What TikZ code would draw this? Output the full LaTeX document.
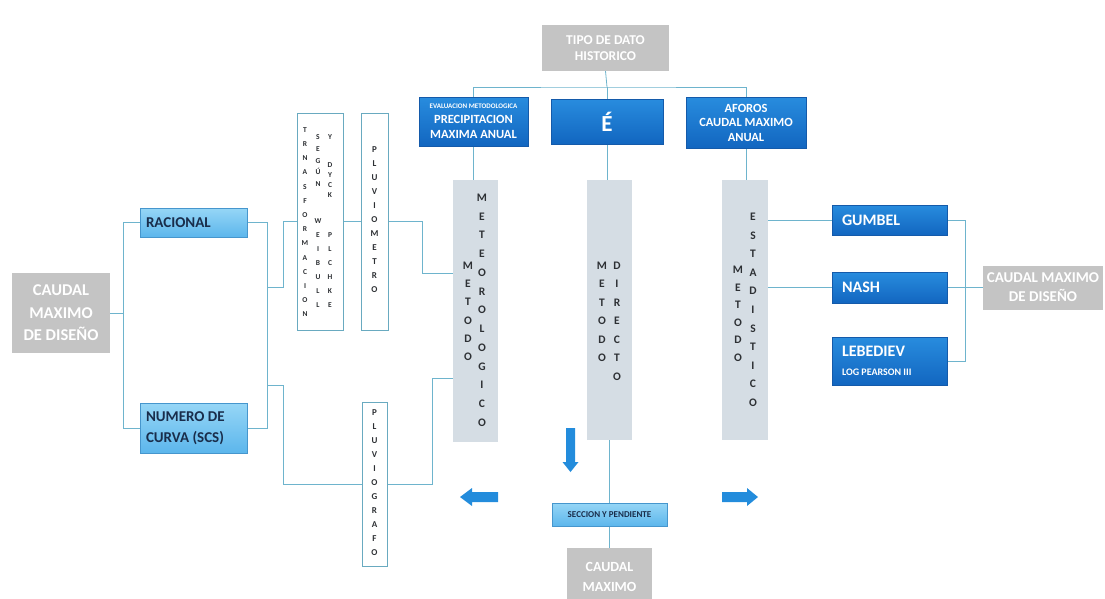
\documentclass[tikz,border=0pt]{standalone}
\usepackage{fontspec}
\setmainfont{Carlito}
\usetikzlibrary{backgrounds}

\definecolor{boxgrey}{RGB}{196,196,196}
\definecolor{colfill}{RGB}{213,221,228}
\definecolor{bluetop}{RGB}{40,140,222}
\definecolor{bluebot}{RGB}{18,102,192}
\definecolor{blueedge}{RGB}{20,90,170}
\definecolor{lighttop}{RGB}{150,214,246}
\definecolor{lightbot}{RGB}{92,182,236}
\definecolor{lightedge}{RGB}{70,150,205}
\definecolor{navytext}{RGB}{25,45,75}
\definecolor{linkc}{RGB}{110,180,205}
\definecolor{frameedge}{RGB}{105,170,192}
\definecolor{lettergrey}{RGB}{45,48,52}
\definecolor{arrowc}{RGB}{35,140,220}

% left-flushed line of fixed width inside a box
\newcommand\lft[1]{\makebox[95pt][l]{#1}}

\begin{document}
\begin{tikzpicture}[x=1pt,y=-1pt,
  every node/.style={inner sep=0pt, outer sep=0pt},
  greybox/.style={fill=boxgrey, text=white, align=center},
  darkbox/.style={top color=bluetop, bottom color=bluebot, draw=blueedge,
    line width=0.5pt, text=white, align=center},
  lightbox/.style={top color=lighttop, bottom color=lightbot, draw=lightedge,
    line width=0.6pt, text=navytext, align=center},
  leftbox/.style={minimum width=115pt, inner xsep=10pt,
    font=\bfseries\fontsize{16}{19}\selectfont},
  framebox/.style={draw=frameedge, fill=white, line width=1pt},
  column/.style={fill=colfill},
  stack/.style={anchor=north, align=center, text=lettergrey,
    font=\bfseries\fontsize{11.5}{#1}\selectfont},
  smallstack/.style={anchor=north, align=center, text=lettergrey,
    font=\bfseries\fontsize{7.5}{#1}\selectfont},
  midstack/.style={anchor=north, align=center, text=lettergrey,
    font=\bfseries\fontsize{9}{#1}\selectfont},
  link/.style={draw=linkc, line width=0.8pt}
]
\useasboundingbox (0,0) rectangle (1105,598);

% ---- top level: kind of historical data ----
\node[greybox, minimum width=127pt, minimum height=46pt,
  font=\bfseries\fontsize{13.5}{16}\selectfont] (tipo) at (605.5,48) {TIPO DE DATO\\HISTORICO};

\node[darkbox, minimum width=109pt, minimum height=49pt,
  font=\bfseries\fontsize{12.5}{15}\selectfont] (bL) at (473.5,121.5)
  {{\fontsize{7}{7}\selectfont EVALUACION METODOLOGICA}\\PRECIPITACION\\MAXIMA ANUAL};
\node[darkbox, minimum width=112pt, minimum height=45pt,
  font=\bfseries\fontsize{23}{24}\selectfont] (bM) at (607,121.5) {É};
\node[darkbox, minimum width=120pt, minimum height=51pt,
  font=\bfseries\fontsize{12.5}{14.5}\selectfont] (bR) at (746,122.5)
  {AFOROS\\CAUDAL MAXIMO\\ANUAL};

% ---- method columns ----
\node[column, minimum width=45pt, minimum height=262pt] (colL) at (475.5,311) {};
\node[column, minimum width=45pt, minimum height=260pt] (colM) at (609.5,310) {};
\node[column, minimum width=46pt, minimum height=260pt] (colR) at (745,310) {};

\node[stack=18.2]  (tL1) at (468,262) {M\\E\\T\\O\\D\\O};
\node[stack=18.75] (tL2) at (482,194) {M\\E\\T\\E\\O\\R\\O\\L\\O\\G\\I\\C\\O};
\node[stack=18.5]  (tM1) at (602,262) {M\\E\\T\\O\\D\\O};
\node[stack=18.5]  (tM2) at (617,262) {D\\I\\R\\E\\C\\T\\O};
\node[stack=17.6]  (tR1) at (738,266) {M\\E\\T\\O\\D\\O};
\node[stack=18.6]  (tR2) at (753,213) {E\\S\\T\\A\\D\\I\\S\\T\\I\\C\\O};

% ---- statistical distributions ----
\node[darkbox, leftbox, minimum height=30pt] (gumbel) at (889.5,220) {\lft{GUMBEL}};
\node[darkbox, leftbox, minimum height=31pt] (nash) at (889.5,287.5) {\lft{NASH}};
\node[darkbox, leftbox, minimum height=48pt] (lebe) at (889.5,361)
  {\lft{LEBEDIEV}\\\lft{\fontsize{10}{11}\selectfont LOG PEARSON III}};
\node[greybox, minimum width=120pt, minimum height=44pt,
  font=\bfseries\fontsize{15}{19}\selectfont] (capR) at (1043,287.5) {CAUDAL MAXIMO\\DE DISEÑO};

% ---- design flow methods ----
\node[greybox, minimum width=98pt, minimum height=80pt,
  font=\bfseries\fontsize{16.5}{22.5}\selectfont] (capL) at (61,313) {CAUDAL\\MAXIMO\\DE DISEÑO};
\node[lightbox, minimum width=107pt, minimum height=29pt, inner xsep=6pt,
  font=\bfseries\fontsize{15}{18}\selectfont] (racional) at (193.5,222.5) {\lft{RACIONAL}};
\node[lightbox, minimum width=107pt, minimum height=50pt, inner xsep=6pt,
  font=\bfseries\fontsize{15}{21.5}\selectfont] (numero) at (193.5,428)
  {\lft{NUMERO DE}\\\lft{CURVA (SCS)}};

% ---- rain gauges ----
\node[framebox, minimum width=46pt, minimum height=217pt] (transf) at (320,221.5) {};
\node[smallstack=14.2] (tc1)  at (305,127.5) {T\\R\\N\\A\\S\\F\\O\\R\\M\\A\\C\\I\\O\\N};
\node[smallstack=11.8] (tc2a) at (318,134.5) {S\\E\\G\\Ú\\N};
\node[smallstack=14]   (tc2b) at (318,218.5) {W\\E\\I\\B\\U\\L\\L};
\node[smallstack=10]   (tc3a) at (330,134.5) {Y};
\node[smallstack=10]   (tc3b) at (330,162.5) {D\\Y\\C\\K};
\node[smallstack=14]   (tc3c) at (330,232.5) {P\\L\\C\\H\\K\\E};

\node[framebox, minimum width=27pt, minimum height=217pt] (pmetro) at (374.5,221.5) {};
\node[midstack=14] (tpm) at (374.5,146.5) {P\\L\\U\\V\\I\\O\\M\\E\\T\\R\\O};
\node[framebox, minimum width=25pt, minimum height=164pt] (pgrafo) at (374.5,484) {};
\node[midstack=14] (tpg) at (374.5,409.5) {P\\L\\U\\V\\I\\O\\G\\R\\A\\F\\O};

% ---- direct method output ----
\node[lightbox, minimum width=115pt, minimum height=23pt,
  font=\bfseries\fontsize{9}{10}\selectfont] (seccion) at (609.5,514.5) {SECCION Y PENDIENTE};
\node[greybox, minimum width=85pt, minimum height=58pt,
  font=\bfseries\fontsize{14}{20}\selectfont] (capB) at (609.5,577) {CAUDAL\\MAXIMO};

% ---- block arrows ----
\fill[arrowc] (566,428) -- (575,428) -- (575,462) -- (578.5,462) -- (570.5,472)
  -- (562.5,462) -- (566,462) -- cycle;
\fill[arrowc] (460,497) -- (472,488) -- (472,492) -- (498,492) -- (498,502)
  -- (472,502) -- (472,506) -- cycle;
\fill[arrowc] (758,497) -- (747,488) -- (747,492) -- (722,492) -- (722,502)
  -- (747,502) -- (747,506) -- cycle;

% ---- connectors ----
\begin{scope}[on background layer]
  \coordinate (hub) at (607,87);
  \draw[link] (tipo.south) -- (hub);
  \draw[link] (bL.north) |- (hub) -| (bR.north);
  \draw[link] (bM.north) -- (hub);
  \draw[link] (bL.south) -- (bL.south |- colL.north);
  \draw[link] (bM.south) -- (bM.south |- colM.north);
  \draw[link] (bR.south) -- (bR.south |- colR.north);

  % left brackets
  \coordinate (lbx) at (123,0);
  \draw[link] (capL.east) -- (capL.east -| lbx);
  \draw[link] (racional.west) -- (racional.west -| lbx) -- (numero.west -| lbx) -- (numero.west);
  \coordinate (rbx) at (267,0);
  \draw[link] (racional.east) -- (racional.east -| rbx) -- (numero.east -| rbx) -- (numero.east);

  % upper branch through the rain gauge
  \coordinate (j1) at (267,287);
  \draw[link] (j1) -- ++(16,0) |- (transf.west);
  \draw[link] (transf.east) -- (pmetro.west);
  \draw[link] (pmetro.east) -- ++(34,0) |- ([yshift=38pt]colL.west);

  % lower branch through the recording gauge
  \coordinate (j2) at (267,385);
  \draw[link] (j2) -- ++(16,0) |- (pgrafo.west);
  \draw[link] (pgrafo.east) -- ++(45,0) |- ([yshift=-67pt]colL.west);

  % statistical branch
  \draw[link] (gumbel.west -| colR.east) -- (gumbel.west);
  \draw[link] (nash.west -| colR.east) -- (nash.west);
  \coordinate (bx) at (965,0);
  \draw[link] (gumbel.east) -- (gumbel.east -| bx) -- (lebe.east -| bx) -- (lebe.east);
  \draw[link] (nash.east) -- (capR.west);

  % direct branch
  \draw[link] (colM.south) -- (capB.north);
\end{scope}
\end{tikzpicture}
\end{document}
